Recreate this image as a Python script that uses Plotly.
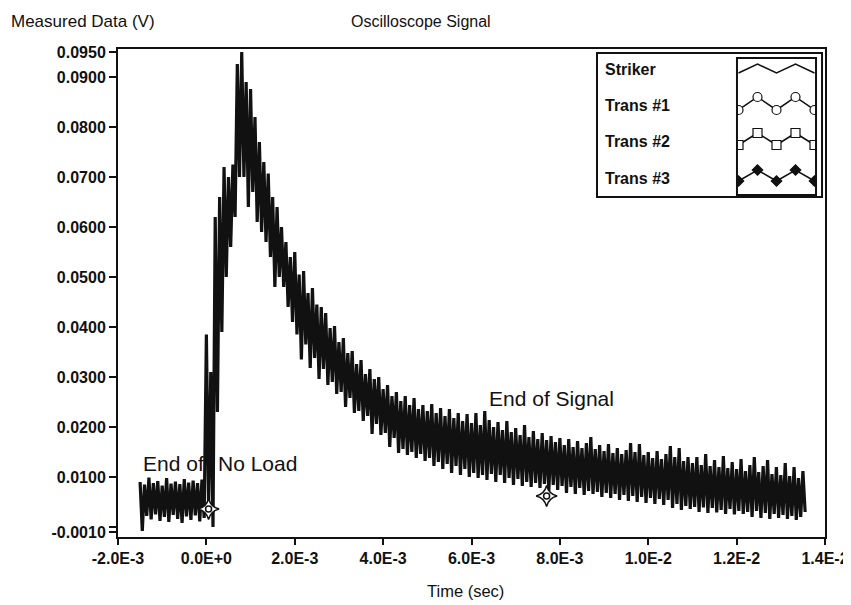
import numpy as np
import plotly.graph_objects as go

# ---------------- data ----------------
# oscilloscope sampling grid (milliseconds)
t_start_ms = -1.5
t_step_ms = 0.1

# upper edge of the noisy Striker trace at each sample (V)
v_upper = [
    # -1.5 .. -0.1 ms (no load)
    0.0090, 0.0085, 0.0099, 0.0088, 0.0092, 0.0083, 0.0098, 0.0087, 0.0091, 0.0086,
    0.0096, 0.0089, 0.0093, 0.0088, 0.0095,
    # 0.0 .. 0.9 ms
    0.0385, 0.0310, 0.0620, 0.0660, 0.0720, 0.0700, 0.0725, 0.0926, 0.0950, 0.0890,
    # 1.0 .. 1.9
    0.0876, 0.0820, 0.0770, 0.0730, 0.0707, 0.0660, 0.0640, 0.0600, 0.0570, 0.0540,
    # 2.0 .. 2.9
    0.0550, 0.0505, 0.0512, 0.0468, 0.0478, 0.0445, 0.0440, 0.0428, 0.0398, 0.0402,
    # 3.0 .. 3.9
    0.0370, 0.0378, 0.0348, 0.0352, 0.0326, 0.0334, 0.0306, 0.0316, 0.0296, 0.0300,
    # 4.0 .. 4.9
    0.0276, 0.0284, 0.0262, 0.0270, 0.0252, 0.0262, 0.0244, 0.0258, 0.0236, 0.0244,
    # 5.0 .. 5.9
    0.0232, 0.0246, 0.0228, 0.0238, 0.0222, 0.0236, 0.0218, 0.0228, 0.0212, 0.0226,
    # 6.0 .. 6.9
    0.0208, 0.0228, 0.0204, 0.0232, 0.0214, 0.0200, 0.0210, 0.0194, 0.0212, 0.0190,
    # 7.0 .. 7.9
    0.0198, 0.0184, 0.0204, 0.0180, 0.0192, 0.0176, 0.0188, 0.0174, 0.0182, 0.0170,
    # 8.0 .. 8.9
    0.0178, 0.0164, 0.0176, 0.0160, 0.0172, 0.0158, 0.0168, 0.0180, 0.0156, 0.0164,
    # 9.0 .. 9.9
    0.0152, 0.0166, 0.0148, 0.0158, 0.0146, 0.0154, 0.0168, 0.0150, 0.0166, 0.0144,
    # 10.0 .. 10.9
    0.0150, 0.0138, 0.0152, 0.0136, 0.0146, 0.0162, 0.0140, 0.0158, 0.0132, 0.0140,
    # 11.0 .. 11.9
    0.0128, 0.0140, 0.0124, 0.0146, 0.0122, 0.0134, 0.0120, 0.0142, 0.0118, 0.0130,
    # 12.0 .. 12.9
    0.0116, 0.0136, 0.0112, 0.0124, 0.0140, 0.0110, 0.0122, 0.0134, 0.0106, 0.0120,
    # 13.0 .. 13.5
    0.0104, 0.0128, 0.0102, 0.0120, 0.0098, 0.0112,
]

# lower edge of the noisy Striker trace at each sample (V)
v_lower = [
    -0.0008, 0.0022, 0.0015, 0.0025, 0.0012, 0.0020, 0.0010, 0.0024, 0.0016, 0.0008,
    0.0021, 0.0014, 0.0023, 0.0011, 0.0018,
    0.0040, 0.0000, 0.0230, 0.0390, 0.0500, 0.0560, 0.0620, 0.0700, 0.0700, 0.0640,
    0.0670, 0.0610, 0.0590, 0.0570, 0.0540, 0.0480, 0.0500, 0.0480, 0.0440, 0.0410,
    0.0385, 0.0335, 0.0365, 0.0318, 0.0338, 0.0296, 0.0316, 0.0284, 0.0290, 0.0266,
    0.0270, 0.0240, 0.0258, 0.0228, 0.0232, 0.0212, 0.0222, 0.0186, 0.0206, 0.0184,
    0.0188, 0.0160, 0.0178, 0.0148, 0.0156, 0.0144, 0.0150, 0.0138, 0.0146, 0.0132,
    0.0138, 0.0122, 0.0130, 0.0116, 0.0126, 0.0108, 0.0122, 0.0104, 0.0116, 0.0100,
    0.0108, 0.0098, 0.0104, 0.0094, 0.0106, 0.0090, 0.0104, 0.0088, 0.0098, 0.0084,
    0.0096, 0.0082, 0.0090, 0.0080, 0.0088, 0.0078, 0.0086, 0.0072, 0.0084, 0.0074,
    0.0082, 0.0068, 0.0080, 0.0066, 0.0078, 0.0064, 0.0072, 0.0066, 0.0070, 0.0060,
    0.0068, 0.0058, 0.0066, 0.0054, 0.0064, 0.0052, 0.0062, 0.0050, 0.0060, 0.0048,
    0.0058, 0.0046, 0.0056, 0.0044, 0.0054, 0.0038, 0.0046, 0.0034, 0.0042, 0.0036,
    0.0040, 0.0030, 0.0039, 0.0028, 0.0038, 0.0029, 0.0034, 0.0026, 0.0036, 0.0025,
    0.0032, 0.0026, 0.0030, 0.0020, 0.0032, 0.0018, 0.0028, 0.0016, 0.0026, 0.0018,
    0.0024, 0.0016, 0.0022, 0.0014, 0.0020, 0.0030,
]

# event markers (time in s, value in V)
event_names = ["End of No Load", "End of Signal"]
event_t = [0.00005, 0.0077]
event_v = [0.0036, 0.0062]

x_tick_vals = [-0.002, 0.0, 0.002, 0.004, 0.006, 0.008, 0.010, 0.012, 0.014]
x_tick_text = ["-2.0E-3", "0.0E+0", "2.0E-3", "4.0E-3", "6.0E-3", "8.0E-3",
               "1.0E-2", "1.2E-2", "1.4E-2"]
y_tick_vals = [0.095, 0.09, 0.08, 0.07, 0.06, 0.05, 0.04, 0.03, 0.02, 0.01, 0.0, -0.001]
y_tick_text = ["0.0950", "0.0900", "0.0800", "0.0700", "0.0600", "0.0500", "0.0400",
               "0.0300", "0.0200", "0.0100", "", "-0.0010"]

legend_names = ["Striker", "Trans #1", "Trans #2", "Trans #3"]
legend_symbols = [None, "circle", "square", "diamond"]
legend_zig = [0, 1, 0, 1, 0]

# ---------------- build the trace ----------------
n = len(v_upper)
t_ms = t_start_ms + t_step_ms * np.arange(n)
t_up = [t * 1e-3 for t in t_ms]
t_lo = [(t + t_step_ms / 2) * 1e-3 for t in t_ms]
xs, ys = [], []
for i in range(n):
    xs += [t_up[i], t_lo[i]]
    ys += [v_upper[i], v_lower[i]]

FONT = "Liberation Sans, Arial, sans-serif"
BLACK = "#111111"

fig = go.Figure()
# the oscillating trace (dense zig-zag between upper and lower edges)
fig.add_trace(go.Scatter(x=xs, y=ys, mode="lines", name=legend_names[0],
                         line=dict(color=BLACK, width=3.2), showlegend=False,
                         hoverinfo="skip"))
fig.add_trace(go.Scatter(x=event_t, y=event_v, mode="markers", showlegend=False,
                         marker=dict(symbol="star-diamond", size=15, color="white",
                                     line=dict(color=BLACK, width=1.5))))
fig.add_trace(go.Scatter(x=event_t, y=event_v, mode="markers", showlegend=False,
                         marker=dict(symbol="circle-open", size=6, color=BLACK,
                                     line=dict(color=BLACK, width=1.5))))

# legend samples on an inset axis
row_base = [122, 85, 50, 14]
row_amp = [9, 13, 12, 11]
for k, name in enumerate(legend_names):
    sym = legend_symbols[k]
    ly = [row_base[k] + z * row_amp[k] for z in legend_zig]
    if sym is None:
        fig.add_trace(go.Scatter(x=list(range(5)), y=ly, mode="lines", xaxis="x2", yaxis="y2",
                                 line=dict(color=BLACK, width=1.5), showlegend=False,
                                 hoverinfo="skip"))
    else:
        filled = sym == "diamond"
        fig.add_trace(go.Scatter(x=list(range(5)), y=ly, mode="lines+markers",
                                 xaxis="x2", yaxis="y2",
                                 line=dict(color=BLACK, width=1.5),
                                 marker=dict(symbol=sym, size=8 if filled else 9,
                                             color=BLACK if filled else "white",
                                             line=dict(color=BLACK, width=1.2)),
                                 showlegend=False, hoverinfo="skip"))

# ---------------- layout ----------------
# the page body adds an 8px margin, so the figure is drawn 8px smaller
W, H = 843, 597
L, R, T, B = 110, 26, 41, 68
fig.update_layout(
    width=W, height=H,
    margin=dict(l=L, r=R, t=T, b=B),
    paper_bgcolor="white", plot_bgcolor="white",
    font=dict(family=FONT, color=BLACK),
    showlegend=False,
    xaxis=dict(range=[-0.002, 0.014], tickvals=x_tick_vals, ticktext=x_tick_text,
               ticks="outside", ticklen=6, tickwidth=2, tickcolor=BLACK,
               showgrid=False, zeroline=False, showline=True, linewidth=2,
               linecolor=BLACK, mirror=True, automargin=False,
               tickfont=dict(family=FONT, size=16, color=BLACK, weight="bold")),
    yaxis=dict(range=[-0.002, 0.0956], tickvals=y_tick_vals, ticktext=y_tick_text,
               ticks="outside", ticklen=7, tickwidth=2, tickcolor=BLACK,
               showgrid=False, zeroline=False, showline=True, linewidth=2,
               linecolor=BLACK, mirror=True, automargin=False,
               tickfont=dict(family=FONT, size=16, color=BLACK, weight="bold")),
    xaxis2=dict(domain=[0.8755, 0.9873], range=[-0.08, 4.08], visible=False,
                anchor="y2", fixedrange=True),
    yaxis2=dict(domain=[0.7008, 0.9816], range=[0, 137], visible=False,
                anchor="x2", fixedrange=True),
)

# legend boxes
fig.add_shape(type="rect", xref="paper", yref="paper", x0=0.6775, x1=0.9958,
              y0=0.6967, y1=0.9918, line=dict(color=BLACK, width=2), fillcolor="white",
              layer="below")
fig.add_shape(type="rect", xref="paper", yref="paper", x0=0.8755, x1=0.9873,
              y0=0.7008, y1=0.9816, line=dict(color=BLACK, width=2))

legend_y = [0.957, 0.885, 0.810, 0.735]
for name, yy in zip(legend_names, legend_y):
    fig.add_annotation(text=name, xref="paper", yref="paper", x=0.686, y=yy,
                       xanchor="left", yanchor="middle", showarrow=False,
                       font=dict(family=FONT, size=16, color=BLACK, weight="bold"))

# titles
fig.add_annotation(text="Oscilloscope Signal", xref="paper", yref="paper",
                   x=0.4286, y=1.057, xanchor="center", yanchor="middle", showarrow=False,
                   font=dict(size=16))
fig.add_annotation(text="Measured Data (V)", xref="paper", yref="paper",
                   x=-0.1542, y=1.057, xanchor="left", yanchor="middle", showarrow=False,
                   font=dict(size=17))
fig.add_annotation(text="Time (sec)", xref="paper", yref="paper",
                   x=0.4915, y=-0.1107, xanchor="center", yanchor="middle", showarrow=False,
                   font=dict(size=16.5))

# event labels
fig.add_annotation(text="End of", x=-0.00147, y=0.0127, xanchor="left", yanchor="middle",
                   showarrow=False, font=dict(size=21))
fig.add_annotation(text="No Load", x=0.00022, y=0.0127, xanchor="left", yanchor="middle",
                   showarrow=False, font=dict(size=21))
fig.add_annotation(text="End of Signal", x=0.00634, y=0.0257, xanchor="left",
                   yanchor="middle", showarrow=False, font=dict(size=21))

fig.write_html("out.html")
